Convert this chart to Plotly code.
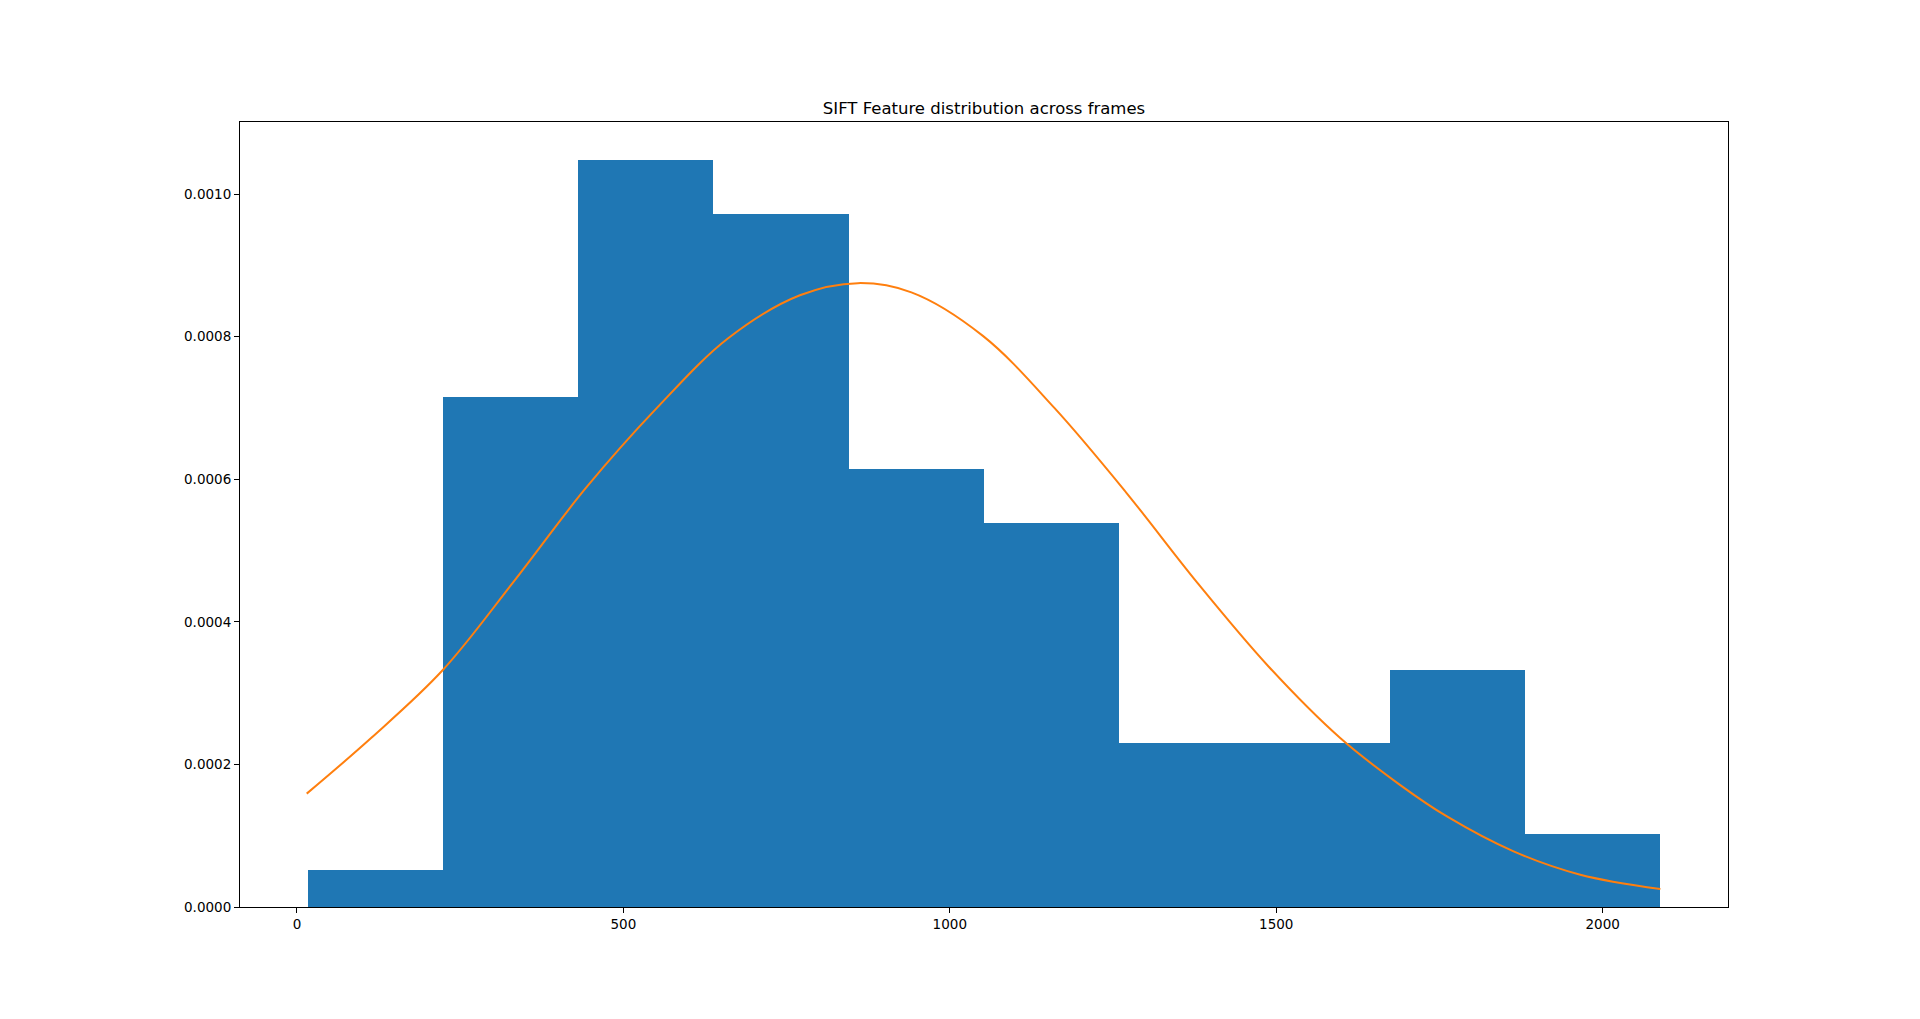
import plotly.graph_objects as go

# Histogram (density)
bin_edges = [16.4, 223.6, 430.8, 638.0, 845.2, 1052.4, 1259.6, 1466.8, 1674.0, 1881.2, 2088.4]
bin_heights = [0.0000515, 0.000716, 0.001048, 0.000972, 0.000615, 0.000538,
               0.0002306, 0.0002306, 0.000333, 0.0001028]

# Fitted curve points
curve_x = [15.0, 113.6, 223.1, 332.6, 442.0, 551.4, 661.0, 770.4, 859.2, 941.2,
           1050.7, 1160.2, 1269.6, 1379.0, 1488.6, 1598.0, 1690.0, 1761.5, 1863.6,
           1965.8, 2088.4]
curve_y = [0.000159, 0.000237, 0.000332, 0.000457, 0.000587, 0.000700, 0.000798,
           0.000858, 0.000875, 0.000862, 0.000801, 0.000700, 0.000582, 0.000455,
           0.000337, 0.000237, 0.000171, 0.000127, 0.000078, 0.0000453, 0.0000252]

x_ticks = [0, 500, 1000, 1500, 2000]
y_ticks = [0.0, 0.0002, 0.0004, 0.0006, 0.0008, 0.0010]
title_text = "SIFT Feature distribution across frames"

centers = [(a + b) / 2 for a, b in zip(bin_edges[:-1], bin_edges[1:])]
widths = [b - a for a, b in zip(bin_edges[:-1], bin_edges[1:])]

fig = go.Figure()
fig.add_trace(go.Bar(
    x=centers, y=bin_heights, width=widths,
    marker=dict(color="#1f77b4", line=dict(width=0)),
    showlegend=False, hoverinfo="skip",
))
fig.add_trace(go.Scatter(
    x=curve_x, y=curve_y, mode="lines",
    line=dict(color="#ff7f0e", width=2, shape="spline", smoothing=1.0),
    showlegend=False, hoverinfo="skip",
))

axis_common = dict(
    showgrid=False, zeroline=False, showline=True, mirror=True,
    linecolor="black", linewidth=1.1, ticks="outside", ticklen=5,
    tickwidth=1.1, tickcolor="black",
    tickfont=dict(family="DejaVu Sans", size=13.5, color="black"),
)

fig.update_layout(
    width=1920, height=1019,
    margin=dict(l=240, r=192, t=122, b=112, pad=0),
    paper_bgcolor="white", plot_bgcolor="white",
    bargap=0,
    title=dict(text=title_text, x=0.5, xanchor="center", xref="paper",
               y=1 - 108 / 1019, yanchor="middle",
               font=dict(family="DejaVu Sans", size=16.5, color="black")),
    xaxis=dict(range=[-87.2, 2192.0], tickvals=x_ticks,
               ticktext=[str(v) for v in x_ticks], **axis_common),
    yaxis=dict(range=[0, 0.0011010], tickvals=y_ticks,
               ticktext=[f"{v:.4f}" for v in y_ticks], **axis_common),
)

fig.write_html("out.html")
